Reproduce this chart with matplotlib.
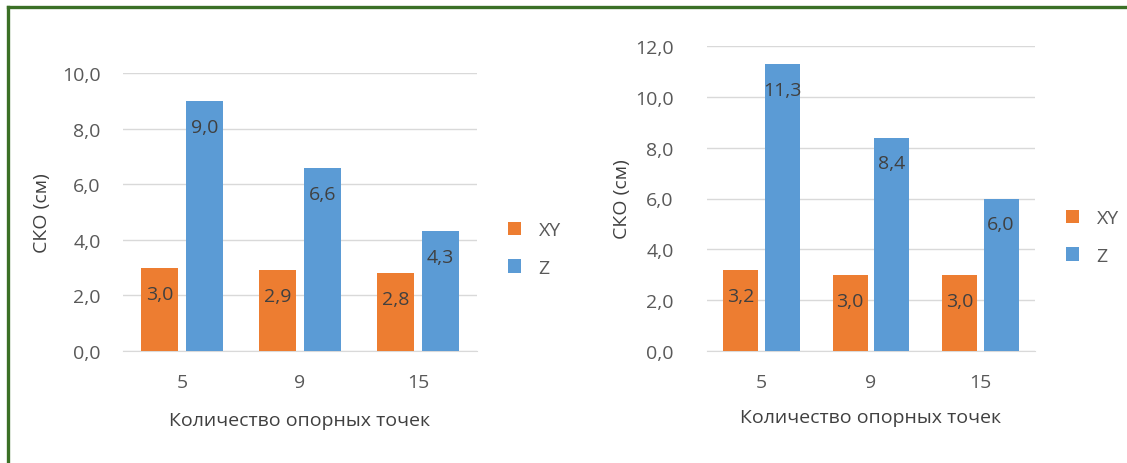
import matplotlib.pyplot as plt
import numpy as np
from matplotlib.lines import Line2D
from matplotlib.ticker import FuncFormatter, MultipleLocator

plt.rcParams['font.family'] = ['Open Sans', 'DejaVu Sans']

# данные
points = ['5', '9', '15']
xy_left = [3.0, 2.9, 2.8]
z_left = [9.0, 6.6, 4.3]
xy_right = [3.2, 3.0, 3.0]
z_right = [11.3, 8.4, 6.0]

C_XY = '#ed7d31'
C_Z = '#5b9bd5'
TXT = '#595959'
GRID = '#d9d9d9'
FS = 14

W, H = 1127, 464
fig = plt.figure(figsize=(W / 100, H / 100), dpi=100)


def comma(v, pos=None):
    return f'{v:.1f}'.replace('.', ',')


def draw(ax, xy, z, ymax, width, off, ypad):
    x = np.arange(len(points))
    b1 = ax.bar(x - off, xy, width, color=C_XY, label='XY', zorder=3)
    b2 = ax.bar(x + off, z, width, color=C_Z, label='Z', zorder=3)
    for bars in (b1, b2):
        for b in bars:
            h = b.get_height()
            ax.annotate(comma(h), (b.get_x() + b.get_width() / 2, h),
                        xytext=(0, -26), textcoords='offset pixels',
                        ha='center', va='center', fontsize=FS, color='#404040',
                        zorder=4)
    ax.set_xlim(-0.5, len(points) - 0.5)
    ax.set_ylim(0, ymax)
    ax.yaxis.set_major_locator(MultipleLocator(2))
    ax.yaxis.set_major_formatter(FuncFormatter(comma))
    ax.set_xticks(x)
    ax.set_xticklabels(points)
    ax.grid(axis='y', color=GRID, lw=1, zorder=0)
    for s in ['top', 'right', 'left']:
        ax.spines[s].set_visible(False)
    ax.spines['bottom'].set_color(GRID)
    ax.tick_params(axis='y', length=0, pad=ypad, labelsize=FS, labelcolor=TXT)
    ax.tick_params(axis='x', length=0, pad=16, labelsize=FS, labelcolor=TXT)
    return b1, b2


ax1 = fig.add_axes([123 / W, 112 / H, 354 / W, 278 / H])
draw(ax1, xy_left, z_left, 10, 0.31, 0.19, 16)
ax1.set_ylabel('СКО (см)', fontsize=FS, color='#404040', labelpad=8)
ax1.set_xlabel('Количество опорных точек', fontsize=FS, color='#404040',
               labelpad=14)

ax2 = fig.add_axes([707 / W, 112 / H, 328 / W, 305 / H])
draw(ax2, xy_right, z_right, 12, 0.32, 0.19, 24)
ax2.set_ylabel('СКО (см)', fontsize=FS, color='#404040', labelpad=3)
ax2.set_xlabel('Количество опорных точек', fontsize=FS, color='#404040',
               labelpad=12)

for ax, bx, by in ((ax1, 490 / W, 1 - 250 / H), (ax2, 1048 / W, 1 - 238 / H)):
    leg = ax.legend(loc='center left', bbox_to_anchor=(bx, by),
                    bbox_transform=fig.transFigure, frameon=False,
                    fontsize=FS, handlelength=0.7, handleheight=0.7,
                    handletextpad=0.9, labelspacing=1.0)
    for t in leg.get_texts():
        t.set_color(TXT)

# зелёная рамка
fig.add_artist(Line2D([8 / W, 8 / W], [0, 1 - 8 / H], color='#3b7026', lw=2.4,
                      transform=fig.transFigure))
fig.add_artist(Line2D([8 / W, 1], [1 - 8 / H, 1 - 8 / H], color='#3b7026', lw=2.4,
                      transform=fig.transFigure))

fig.savefig('out.png', dpi=100)
